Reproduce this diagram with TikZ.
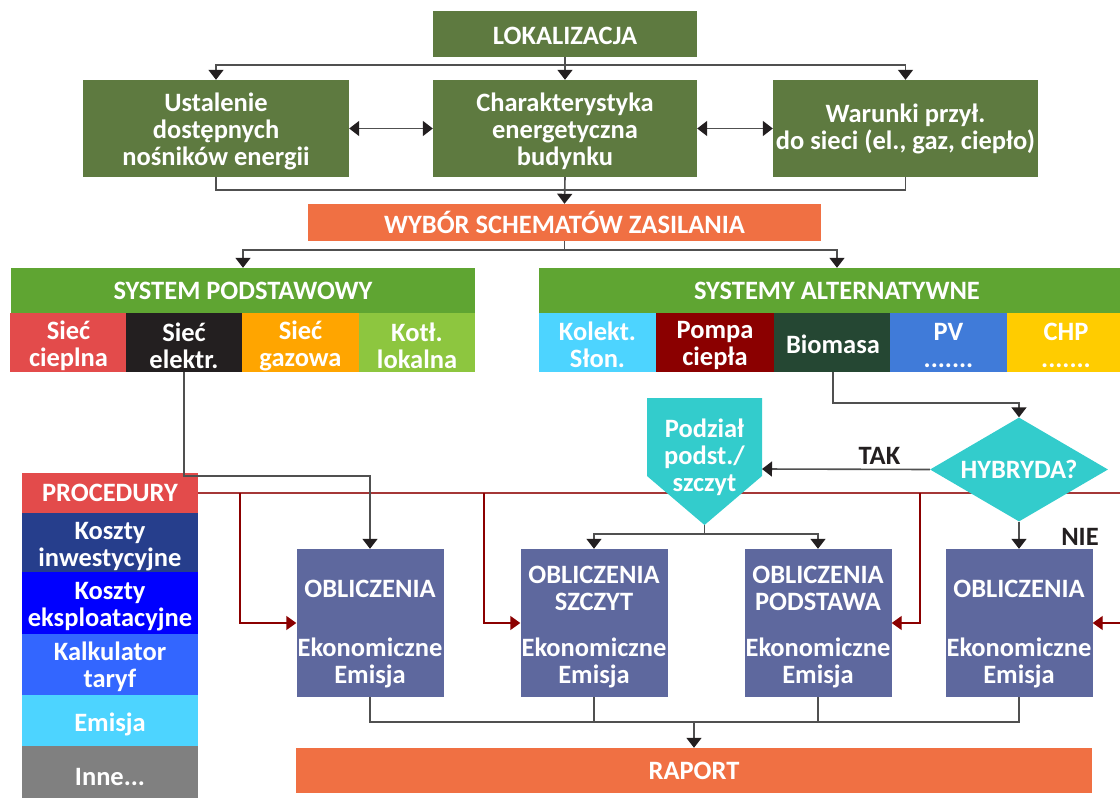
\documentclass[tikz,border=0pt]{standalone}
\usepackage{fontspec}
\setmainfont{Carlito}
\usetikzlibrary{arrows.meta,shapes.geometric}

\definecolor{topgreen}{RGB}{94,122,64}
\definecolor{hgreen}{RGB}{95,165,50}
\definecolor{orng}{RGB}{240,112,67}
\definecolor{cred}{RGB}{227,75,75}
\definecolor{cblack}{RGB}{35,31,32}
\definecolor{corange}{RGB}{255,165,0}
\definecolor{clime}{RGB}{141,198,63}
\definecolor{ccyan}{RGB}{77,212,255}
\definecolor{cpompa}{RGB}{139,0,0}
\definecolor{cbio}{RGB}{37,71,51}
\definecolor{cpv}{RGB}{64,123,217}
\definecolor{cchp}{RGB}{255,204,0}
\definecolor{oblblue}{RGB}{94,104,158}
\definecolor{hcyan}{RGB}{51,204,204}
\definecolor{kinw}{RGB}{38,62,140}
\definecolor{keks}{RGB}{0,0,255}
\definecolor{kalk}{RGB}{51,102,255}
\definecolor{inne}{RGB}{128,128,128}
\definecolor{lgrey}{RGB}{80,80,80}
\definecolor{pred}{RGB}{165,55,55}
\definecolor{dred}{RGB}{139,0,0}

% podniesienie pierwszej linii tekstu
\newcommand\tup[1]{\rule{0pt}{#1pt}}

\begin{document}
\begin{tikzpicture}[x=1pt, y=-1pt,
    every node/.style={font=\bfseries\fontsize{26.5}{27}\selectfont, text=white, align=center, inner sep=0pt},
    box/.style n args={3}{fill=#1, minimum width=#2, minimum height=#3},
    obl/.style={box={oblblue}{147}{148}},
    ln/.style={draw=lgrey, line width=1.6pt},
    arr/.style={ln, -{Triangle[length=10pt,width=15pt,color=cblack]}},
    arr2/.style={ln, {Triangle[length=10pt,width=15pt,color=cblack]}-{Triangle[length=10pt,width=15pt,color=cblack]}},
    pline/.style={draw=pred, line width=1.4pt},
    parr/.style={draw=dred, line width=1.4pt, -{Triangle[length=10pt,width=14pt]}}]
  \useasboundingbox (0,0) rectangle (1120,798);

  % gorna czesc
  \node[box={topgreen}{264}{46}] (lok) at (565,34) {\tup{22}LOKALIZACJA};
  \node[box={topgreen}{266}{97}] (ust) at (216,128.5) {\tup{24}Ustalenie\\dostępnych\\nośników energii};
  \node[box={topgreen}{264}{97}] (char) at (565,128.5) {\tup{24}Charakterystyka\\energetyczna\\budynku};
  \node[box={topgreen}{265}{97}] (war) at (905.5,128.5) {Warunki przył.\\do sieci (el., gaz, ciepło)};
  \node[box={orng}{513}{37}] (wyb) at (564.5,222.5) {WYBÓR SCHEMATÓW ZASILANIA};

  % systemy
  \node[box={hgreen}{464}{45}] (sp) at (243,290.5) {SYSTEM PODSTAWOWY};
  \node[box={hgreen}{596}{45}] (sa) at (837,290.5) {SYSTEMY ALTERNATYWNE};
  \foreach \c/\x/\col/\txt in {1/68.5/cred/{Sieć\\cieplna}, 2/184/cblack/{Sieć\\elektr.},
      3/300.5/corange/{Sieć\\gazowa}, 4/417/clime/{Kotł.\\lokalna}}
    \node[box={\col}{116.5}{59}] (pc\c) at (\x,342.5) {\tup{25}\txt};
  \foreach \c/\x/\col/\txt in {1/597.5/ccyan/{Kolekt.\\Słon.}, 2/715/cpompa/{Pompa\\ciepła},
      3/833/cbio/{Biomasa}, 4/948.5/cpv/{PV\\.......}, 5/1066/cchp/{CHP\\.......}}
    \node[box={\col}{118}{59}] (ac\c) at (\x,342.5) {\tup{23}\txt};

  % procedury
  \node[box={cred}{176}{40}] (proc) at (110,493) {PROCEDURY};
  \node[box={kinw}{176}{59}] (kinw) at (110,542.5) {\tup{26}Koszty\\inwestycyjne};
  \node[box={keks}{176}{62}] (keks) at (110,603) {\tup{24}Koszty\\eksploatacyjne};
  \node[box={kalk}{176}{61}] (kalk) at (110,664.5) {\tup{24}Kalkulator\\taryf};
  \node[box={ccyan}{176}{51}] (emis) at (110,720.5) {\tup{26}Emisja};
  \node[box={inne}{176}{62}] (inne) at (110,777) {Inne...};

  % obliczenia
  \node[obl] (obl1) at (370,623) {\tup{39}OBLICZENIA\\[32pt]Ekonomiczne\\Emisja};
  \node[obl] (obl2) at (594,623) {\tup{25}OBLICZENIA\\SZCZYT\\[19pt]Ekonomiczne\\Emisja};
  \node[obl] (obl3) at (818,623) {\tup{25}OBLICZENIA\\PODSTAWA\\[19pt]Ekonomiczne\\Emisja};
  \node[obl] (obl4) at (1019,623) {\tup{39}OBLICZENIA\\[32pt]Ekonomiczne\\Emisja};
  \node[box={orng}{796}{45}] (rap) at (694,770.5) {RAPORT};

  % linia procedur
  \draw[pline] (proc.east) -- ++(940,0);
  \coordinate (b1) at (240,493);
  \coordinate (b2) at (484,493);
  \coordinate (b3) at (920,493);
  \coordinate (b4) at (1135,493);
  \draw[parr] (b1) |- (obl1.west);
  \draw[parr] (b2) |- (obl2.west);
  \draw[parr] (b3) |- (obl3.east);
  \draw[parr] (b4) |- (obl4.east);

  % podzial i hybryda
  \fill[hcyan] (647,398) -- (762,398) -- (762,476) -- (704.5,525) -- (647,476) -- cycle;
  \node (pod) at (704.5,457) {Podział\\podst./\\szczyt};
  \coordinate (podR) at (762,469);
  \coordinate (podT) at (704.5,525);
  \node[diamond, fill=hcyan, minimum width=178, minimum height=104, aspect=1.7] (hyb) at (1019,469.5) {HYBRYDA?};

  % polaczenia
  \draw[arr] (lok.south) -- ++(0,8) -| (ust.north);
  \draw[arr] (lok.south) -- ++(0,8) -| (war.north);
  \draw[arr] (lok.south) -- (char.north);
  \draw[arr2] (ust.east) -- (char.west);
  \draw[arr2] (char.east) -- (war.west);
  \draw[ln] (ust.south) -- ++(0,13) -| (war.south);
  \draw[arr] (char.south) -- (wyb.north);
  \draw[arr] (wyb.south) -- ++(0,9) -| (sp.north);
  \draw[arr] (wyb.south) -- ++(0,9) -| (sa.north);
  \draw[arr] (pc2.south) -- ++(0,104) -| (obl1.north);
  \draw[arr] (ac3.south) -- ++(0,31) -| (hyb.north);
  \draw[arr] (hyb.west) -- (podR) node[pos=0.3, above=4pt, text=cblack] {TAK};
  \draw[ln] (podT) -- ++(0,9) coordinate (pj);
  \draw[arr] (pj) -| (obl2.north);
  \draw[arr] (pj) -| (obl3.north);
  \draw[arr] (hyb.south) -- (obl4.north);
  \node[text=cblack] (nie) at (1080,537) {NIE};
  \draw[ln] (obl1.south) -- ++(0,25) coordinate (bj) -| (obl4.south);
  \draw[ln] (obl2.south) -- (obl2.south |- bj);
  \draw[ln] (obl3.south) -- (obl3.south |- bj);
  \draw[arr] (rap.north |- bj) -- (rap.north);
\end{tikzpicture}
\end{document}
